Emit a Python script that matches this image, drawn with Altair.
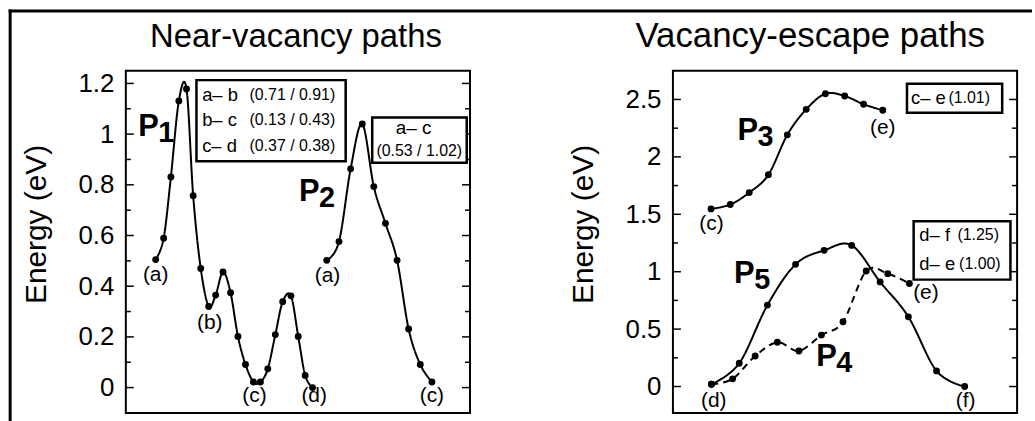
import altair as alt
import pandas as pd

# ---------------- data ----------------
# Left panel: reaction coordinate (arb. units) and energy (eV)
p1_x = [30, 38, 45.3, 53.3, 61, 67.7, 75.3, 83.3, 90.3, 97.7, 105.3, 112.7,
        120.3, 128.3, 135.3, 142.7, 150.3, 157.7, 166, 173.3, 180.3, 187.7]
p1_e = [0.505, 0.589, 0.831, 1.131, 1.178, 0.757, 0.470, 0.320, 0.365, 0.456,
        0.374, 0.202, 0.091, 0.022, 0.022, 0.074, 0.209, 0.339, 0.362, 0.202,
        0.048, 0.0]
p2_x = [202, 214.3, 226, 237.7, 249.3, 261, 272.7, 284.3, 296, 307.7]
p2_e = [0.502, 0.576, 0.863, 1.04, 0.793, 0.648, 0.502, 0.231, 0.091, 0.022]

# Right panel
p3_x = [38.3, 57.7, 76.7, 96, 115, 134, 153.3, 172.7, 191.7, 211]
p3_e = [1.547, 1.585, 1.689, 1.845, 2.192, 2.414, 2.55, 2.53, 2.458, 2.406]
p5_x = [38.7, 66.7, 95, 123.3, 152, 179.7, 208.3, 236.7, 265, 293.3]
p5_e = [0.02, 0.203, 0.709, 1.064, 1.186, 1.229, 0.911, 0.607, 0.136, 0.0]
p4_x = [38.7, 60, 82.7, 105, 126.7, 149.3, 171, 194.3, 216, 237.7]
p4_e = [0.02, 0.067, 0.266, 0.385, 0.31, 0.448, 0.564, 1.006, 0.983, 0.897]

# point labels
left_lab_text = ["(a)", "(b)", "(c)", "(d)", "(a)", "(c)"]
left_lab_x = [30, 84.3, 129.3, 189.3, 202.7, 307.7]
left_lab_e = [0.443, 0.254, -0.033, -0.033, 0.44, -0.033]
right_lab_text = ["(c)", "(e)", "(d)", "(f)", "(e)"]
right_lab_x = [38.7, 211, 41, 294.3, 254.3]
right_lab_e = [1.417, 2.255, -0.13, -0.13, 0.81]

# path names (P + subscript digit)
left_path_num = ["1", "2"]
left_path_x = [22.7, 184.3]
left_path_e = [1.027, 0.773]
right_path_num = ["3", "5", "4"]
right_path_x = [75.2, 71.8, 154.3]
right_path_e = [2.226, 0.983, 0.253]

# annotation boxes: x, x2, e, e2
left_box_x = [71, 247.7]
left_box_x2 = [221, 342.7]
left_box_e = [1.213, 1.066]
left_box_e2 = [0.893, 0.887]
right_box_x = [235.3, 242]
right_box_x2 = [331, 339.3]
right_box_e = [2.637, 1.44]
right_box_e2 = [2.385, 0.931]

# box texts: transition names and barrier values
left_pair = ["a\u2013 b", "b\u2013 c", "c\u2013 d"]
left_pair_vals = ["(0.71 / 0.91)", "(0.13 / 0.43)", "(0.37 / 0.38)"]
left_pair_x = [76.7, 76.7, 76.7]
left_vals_x = [124.3, 124.3, 124.3]
left_pair_e = [1.155, 1.057, 0.952]
left2_lines = ["a\u2013 c", "(0.53 / 1.02)"]
left2_x = [289.3, 295]
left2_e = [1.024, 0.935]
right_pair = ["c\u2013 e", "d\u2013 f", "d\u2013 e"]
right_pair_vals = ["(1.01)", "(1.25)", "(1.00)"]
right_pair_x = [239.3, 247.7, 247.7]
right_vals_x = [277, 286, 287.7]
right_pair_e = [2.51, 1.316, 1.07]

left_major = [0, 0.2, 0.4, 0.6, 0.8, 1.0, 1.2]
left_minor = [0.1, 0.3, 0.5, 0.7, 0.9, 1.1]
right_major = [0, 0.5, 1.0, 1.5, 2.0, 2.5]
right_minor = [0.25, 0.75, 1.25, 1.75, 2.25]

titles = ["Near-vacancy paths", "Vacancy-escape paths"]
ytitle = "Energy (eV)"

# ---------------- chart ----------------
W, H = 346, 344
FONT = "Liberation Sans"


def panel(paths, lab_t, lab_x, lab_e, pnum, px, pe, bx, bx2, be, be2,
          pair, pvals, pair_x, vals_x, pair_e, extra, ydom, major, minor,
          title, title_x, title_size, border):
    xs = alt.Scale(domain=[0, W], nice=False, zero=False)
    ys = alt.Scale(domain=ydom, nice=False, zero=False)
    yax = alt.Axis(
        values=major, format="~g", ticks=False, domain=False, grid=False,
        labelFont=FONT, labelFontSize=26, labelColor="black", labelPadding=12,
        title=ytitle, titleFont=FONT, titleFontSize=30, titleFontWeight="normal",
        titleColor="black", titleX=-90, titleY=154, titleAngle=270,
        titleAlign="center", titleBaseline="middle")
    X = lambda f: alt.X(f, type="quantitative", scale=xs, axis=None)
    Y = lambda f: alt.Y(f, type="quantitative", scale=ys, axis=yax)
    layers = []

    # ticks (inward, major + minor, both sides)
    for vals, ln in ((major, 8), (minor, 5)):
        tdf = pd.DataFrame({"e": vals})
        for x0, x1 in ((0, ln), (W, W - ln)):
            layers.append(alt.Chart(tdf).mark_rule(color="black", strokeWidth=1.5).encode(
                y=Y("e"), x=alt.value(x0), x2=alt.value(x1)))

    # boxes
    bdf = pd.DataFrame({"x": bx, "x2": bx2, "e": be, "e2": be2})
    layers.append(alt.Chart(bdf).mark_rect(fill="white", stroke="black", strokeWidth=2.5).encode(
        x=X("x"), x2="x2", y=Y("e"), y2="e2"))

    # curves and points
    for xs_, es_, dash in paths:
        df = pd.DataFrame({"x": xs_, "e": es_})
        line = alt.Chart(df).mark_line(color="black", strokeWidth=2, interpolate="cardinal",
                                       strokeDash=dash if dash else [1, 0])
        layers.append(line.encode(x=X("x"), y=Y("e")))
        layers.append(alt.Chart(df).mark_circle(color="black", size=48, opacity=1).encode(
            x=X("x"), y=Y("e")))

    # point labels
    ldf = pd.DataFrame({"t": lab_t, "x": lab_x, "e": lab_e})
    layers.append(alt.Chart(ldf).mark_text(font=FONT, fontSize=21, color="black",
                                           baseline="middle", align="center").encode(
        x=X("x"), y=Y("e"), text="t:N"))

    # path names
    pdf = pd.DataFrame({"t": ["P"] * len(pnum), "n": pnum, "x": px, "e": pe})
    layers.append(alt.Chart(pdf).mark_text(font=FONT, fontSize=31, fontWeight="bold", color="black",
                                           baseline="middle", align="center").encode(
        x=X("x"), y=Y("e"), text="t:N"))
    layers.append(alt.Chart(pdf).mark_text(font=FONT, fontSize=29, fontWeight="bold", color="black",
                                           baseline="middle", align="center", dx=18, dy=6).encode(
        x=X("x"), y=Y("e"), text="n:N"))

    # box texts
    tdf = pd.DataFrame({"t": pair, "v": pvals, "x": pair_x, "xv": vals_x, "e": pair_e})
    layers.append(alt.Chart(tdf).mark_text(font=FONT, fontSize=18.5, color="black",
                                           baseline="middle", align="left").encode(
        x=X("x"), y=Y("e"), text="t:N"))
    layers.append(alt.Chart(tdf).mark_text(font=FONT, fontSize=16, color="black",
                                           baseline="middle", align="left").encode(
        x=X("xv"), y=Y("e"), text="v:N"))
    if extra is not None:
        et, ex, ee = extra
        edf = pd.DataFrame({"t": et, "x": ex, "e": ee, "s": [19, 16]})
        layers.append(alt.Chart(edf).mark_text(font=FONT, color="black",
                                               baseline="middle", align="center").encode(
            x=X("x"), y=Y("e"), text="t:N",
            size=alt.Size("s:Q", scale=None, legend=None)))

    # panel title
    ttl = pd.DataFrame({"t": [title]})
    layers.append(alt.Chart(ttl).mark_text(font=FONT, fontSize=title_size, color="black",
                                           baseline="alphabetic", align="center").encode(
        x=alt.value(title_x), y=alt.value(-24), text="t:N"))

    if border:
        one = pd.DataFrame({"k": [0]})
        layers.append(alt.Chart(one).mark_rule(color="black", strokeWidth=3).encode(
            x=alt.value(-116.3), y=alt.value(-61.5), y2=alt.value(352)))
        layers.append(alt.Chart(one).mark_rule(color="black", strokeWidth=3).encode(
            x=alt.value(-117.8), x2=alt.value(911), y=alt.value(-60)))

    return alt.layer(*layers).properties(width=W, height=H)


left = panel([(p1_x, p1_e, None), (p2_x, p2_e, None)],
             left_lab_text, left_lab_x, left_lab_e,
             left_path_num, left_path_x, left_path_e,
             left_box_x, left_box_x2, left_box_e, left_box_e2,
             left_pair, left_pair_vals, left_pair_x, left_vals_x, left_pair_e,
             (left2_lines, left2_x, left2_e),
             [-0.1, 1.25], left_major, left_minor, titles[0], 171, 33, True)

right = panel([(p3_x, p3_e, None), (p5_x, p5_e, None), (p4_x, p4_e, [7, 5])],
              right_lab_text, right_lab_x, right_lab_e,
              right_path_num, right_path_x, right_path_e,
              right_box_x, right_box_x2, right_box_e, right_box_e2,
              right_pair, right_pair_vals, right_pair_x, right_vals_x, right_pair_e,
              None, [-0.23, 2.75], right_major, right_minor, titles[1], 138, 35, False)

chart = alt.hconcat(left, right, spacing=204, bounds="flush").properties(
    padding={"left": 5.5, "top": 6, "right": 0, "bottom": 0},
    background="white",
).configure_view(stroke="black", strokeWidth=2)

chart.save("out.html", embed_options={"renderer": "svg", "actions": False})
